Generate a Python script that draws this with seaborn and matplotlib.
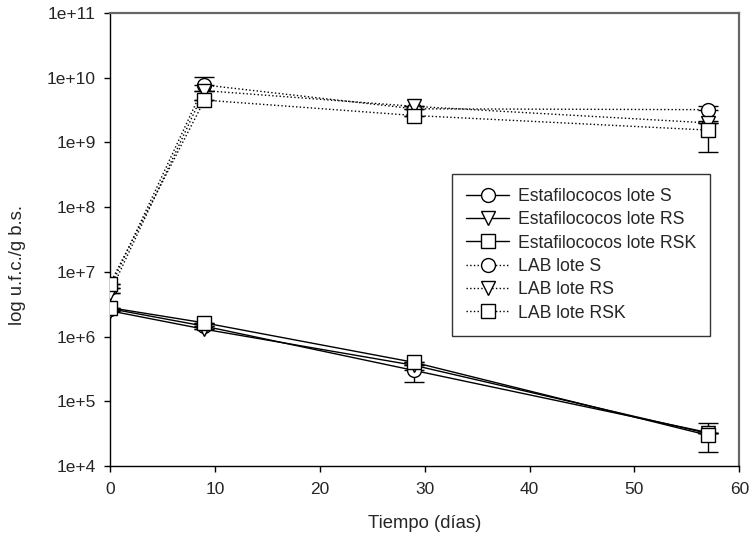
import numpy as np
import pandas as pd
import matplotlib
matplotlib.use("Agg")
import matplotlib.pyplot as plt
import seaborn as sns
from matplotlib.ticker import FixedLocator, FuncFormatter
from matplotlib.lines import Line2D

# ---- data ----
days = [0, 9, 29, 57]
staph_S = [2.7e6, 1.45e6, 3.0e5, 3.3e4]
staph_RS = [2.5e6, 1.3e6, 3.6e5, 3.2e4]
staph_RSK = [2.8e6, 1.63e6, 4.0e5, 3.0e4]
lab_S = [5.7e6, 7.7e9, 3.3e9, 3.2e9]
lab_RS = [4.8e6, 6.3e9, 3.6e9, 2.0e9]
lab_RSK = [6.6e6, 4.5e9, 2.6e9, 1.55e9]

# asymmetric errors (lower, upper) per point
staph_S_err = ([0, 0, 1.0e5, 0], [0, 0, 0, 0])
staph_RS_err = ([0, 0, 0, 0], [0, 0, 0, 0])
staph_RSK_err = ([0, 0, 0, 1.35e4], [0, 0, 0, 1.6e4])
lab_S_err = ([0, 0, 0, 0], [0, 2.5e9, 0, 4.0e8])
lab_RS_err = ([0, 0, 0, 0], [0, 0, 0, 0])
lab_RSK_err = ([0, 0, 0, 8.5e8], [0, 0, 0, 6.0e8])

labels = ["Estafilococos lote S", "Estafilococos lote RS", "Estafilococos lote RSK",
          "LAB lote S", "LAB lote RS", "LAB lote RSK"]
series = [staph_S, staph_RS, staph_RSK, lab_S, lab_RS, lab_RSK]
errs = [staph_S_err, staph_RS_err, staph_RSK_err, lab_S_err, lab_RS_err, lab_RSK_err]
markers = ["o", "v", "s", "o", "v", "s"]
linestyles = ["-", "-", "-", ":", ":", ":"]

xticks = [0, 10, 20, 30, 40, 50, 60]
yticks = [1e4, 1e5, 1e6, 1e7, 1e8, 1e9, 1e10, 1e11]

sns.set_style("ticks")
plt.rcParams['font.family'] = ['Liberation Sans', 'DejaVu Sans']

fig = plt.figure(figsize=(7.49, 5.37), dpi=100)
ax = fig.add_axes([0.147, 0.132, 0.84, 0.844])

for lab, vals, err, m, ls in zip(labels, series, errs, markers, linestyles):
    df = pd.DataFrame({"x": days, "y": vals})
    lo, hi = err
    ax.errorbar(days, vals, yerr=[lo, hi], fmt="none", ecolor="black",
                elinewidth=1.0, capsize=7, capthick=1.0, zorder=2)
    sns.lineplot(data=df, x="x", y="y", ax=ax, color="black",
                 linestyle=ls, linewidth=1.0,
                 marker=m, markersize=10, markerfacecolor="white",
                 markeredgecolor="black", markeredgewidth=1.0,
                 legend=False, zorder=3)

ax.set_yscale("log")
ax.set_xlim(0, 60)
ax.set_ylim(1e4, 1e11)
ax.xaxis.set_major_locator(FixedLocator(xticks))
ax.yaxis.set_major_locator(FixedLocator(yticks))
ax.yaxis.set_minor_locator(FixedLocator([]))
ax.yaxis.set_major_formatter(FuncFormatter(lambda v, p: "1e+%d" % int(round(np.log10(v)))))
ax.tick_params(axis="both", direction="out", length=4.5, width=1.0, labelsize=12.5, color="black")
ax.tick_params(axis="x", pad=7)
ax.tick_params(axis="y", pad=6)

ax.set_xlabel("Tiempo (días)", fontsize=13.3, labelpad=13)
ax.set_ylabel("log u.f.c./g b.s.", fontsize=13.3)
ax.yaxis.set_label_coords(-0.1335, 0.444)

for s in ["left", "bottom"]:
    ax.spines[s].set_color("black")
    ax.spines[s].set_linewidth(1.0)
for s in ["top", "right"]:
    ax.spines[s].set_visible(True)
    ax.spines[s].set_color("#666666")
    ax.spines[s].set_linewidth(1.6)

handles = [Line2D([0], [0], color="black", linestyle=ls, linewidth=1.0, marker=m,
                  markersize=10, markerfacecolor="white", markeredgecolor="black")
           for m, ls in zip(markers, linestyles)]
leg = ax.legend(handles, labels, loc="upper left", bbox_to_anchor=(0.544, 0.645),
                fontsize=12.7, frameon=True, fancybox=False, edgecolor="black",
                handlelength=2.4, handletextpad=0.5, labelspacing=0.36,
                borderpad=0.8, borderaxespad=0)
leg.get_frame().set_linewidth(1.0)

fig.savefig("out.png", dpi=100, facecolor="white")
